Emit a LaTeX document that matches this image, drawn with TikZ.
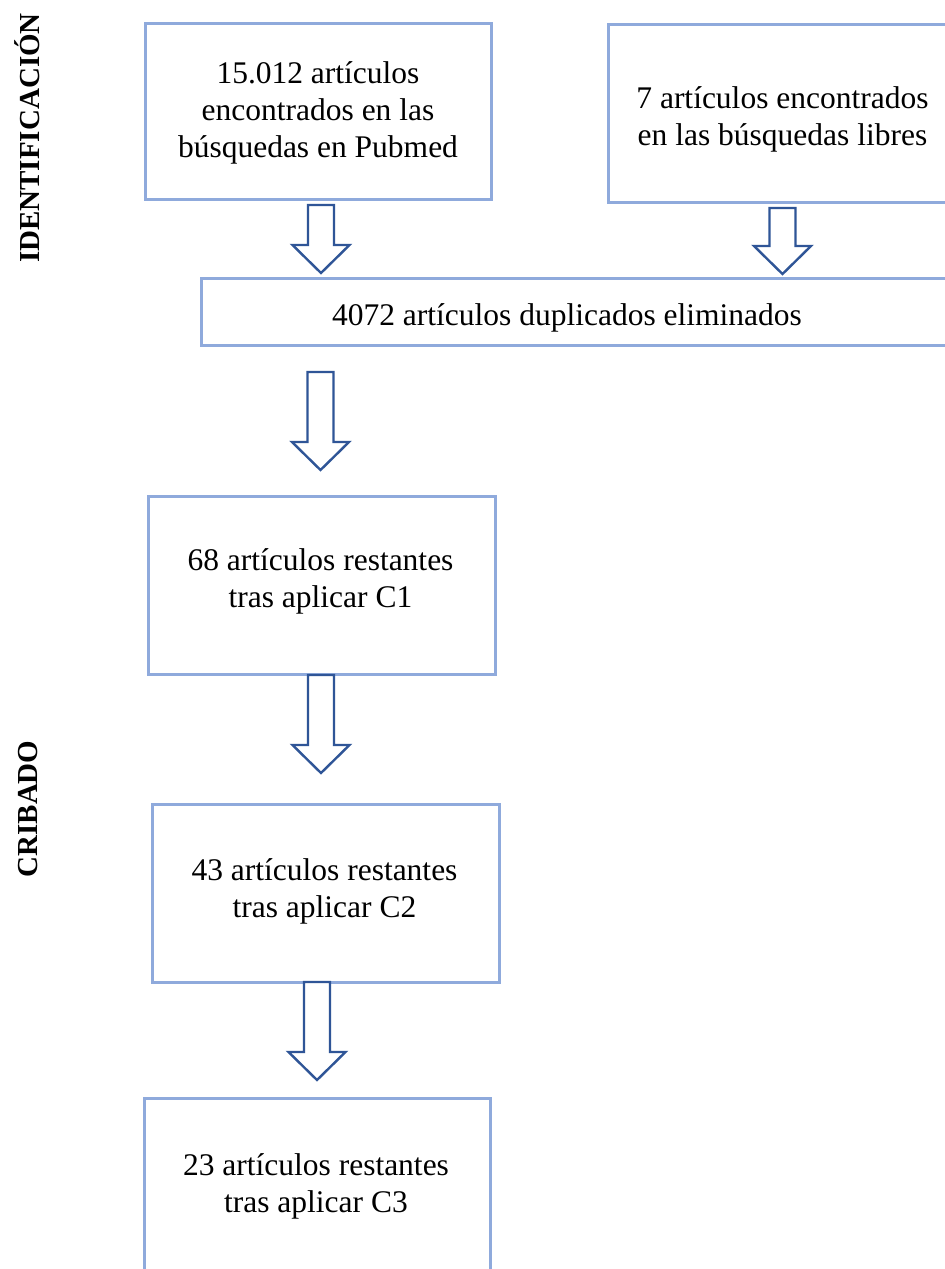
\documentclass[tikz,border=0pt]{standalone}
\usepackage{fontspec}
\setmainfont{Liberation Serif}
\definecolor{boxblue}{HTML}{8FAADC}
\definecolor{arrowblue}{HTML}{2F5597}
\tikzset{
  box/.style={draw=boxblue, line width=2.6pt, rectangle, anchor=north west, inner sep=0pt},
  boxtext/.style={anchor=base, inner sep=0pt, font=\fontsize{31.5}{37}\selectfont},
  blockarrow/.style={draw=arrowblue, line width=2.4pt, fill=white, line join=miter},
  sidelabel/.style={rotate=90, font=\fontsize{29}{34}\selectfont\bfseries}
}
\newcommand\myblockarrow[3]{%
  \draw[blockarrow] ({#1-13},#2) -- ({#1+13},#2) -- ({#1+13},{#3-28}) -- ({#1+28.5},{#3-28})
    -- (#1,#3) -- ({#1-28.5},{#3-28}) -- ({#1-13},{#3-28}) -- cycle;}
\newcommand\mylines[1]{\parbox[t]{360pt}{\centering\fontsize{31.5}{37}\selectfont #1}}
\begin{document}
\begin{tikzpicture}[x=1pt,y=-1pt]
\useasboundingbox (0,0) rectangle (945,1269);
\clip (0,0) rectangle (945,1269);
\fill[white] (0,0) rectangle (945,1269);

\node[sidelabel] (lid) at (27,138) {IDENTIFICACIÓN};
\node[sidelabel] (lcr) at (28,809) {CRIBADO};

% boxes
\node[box, minimum width=346pt, minimum height=176pt] (b1) at (144,22) {};
\node[box, minimum width=353pt, minimum height=178pt] (b2) at (607,23) {};
\node[box, minimum width=750pt, minimum height=67pt] (b3) at (200,277) {};
\node[box, minimum width=347pt, minimum height=178pt] (b4) at (147,495) {};
\node[box, minimum width=347pt, minimum height=178pt] (b5) at (151,803) {};
\node[box, minimum width=346pt, minimum height=178pt] (b6) at (143,1097) {};

% texts (anchored at the baseline of the first line)
\node[boxtext] (t1) at (318,83) {\mylines{15.012 artículos\\encontrados en las\\búsquedas en Pubmed}};
\node[boxtext] (t2) at (782.5,108) {\mylines{7 artículos encontrados\\en las búsquedas libres}};
\node[boxtext] (t3) at (567,325) {4072 artículos duplicados eliminados};
\node[boxtext] (t4) at (320.5,570) {\mylines{68 artículos restantes\\tras aplicar C1}};
\node[boxtext] (t5) at (324.5,880) {\mylines{43 artículos restantes\\tras aplicar C2}};
\node[boxtext] (t6) at (316,1175) {\mylines{23 artículos restantes\\tras aplicar C3}};

% block arrows
\myblockarrow{321}{205}{273}
\myblockarrow{782.5}{208}{274}
\myblockarrow{320.5}{372}{470}
\myblockarrow{321}{675}{773}
\myblockarrow{317}{982}{1080}
\end{tikzpicture}
\end{document}
